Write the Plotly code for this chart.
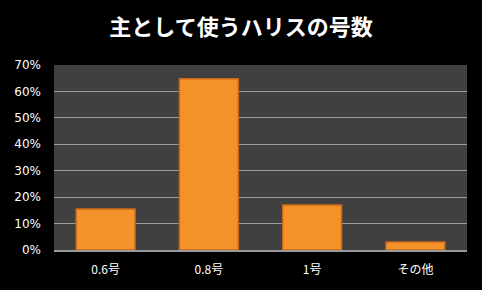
import plotly.graph_objects as go

categories = ["0.6号", "0.8号", "1号", "その他"]
values = [0.155, 0.648, 0.17, 0.03]
tick_vals = [0, 0.1, 0.2, 0.3, 0.4, 0.5, 0.6, 0.7]
tick_text = ["0%", "10%", "20%", "30%", "40%", "50%", "60%", "70%"]

fig = go.Figure()
fig.add_trace(go.Bar(
    x=categories, y=values,
    marker=dict(color="#f5922a", line=dict(color="#c96a18", width=1.5)),
    width=0.57,
))
fig.update_layout(
    width=482, height=290,
    margin=dict(l=54, r=15, t=65, b=40),
    paper_bgcolor="#000000",
    plot_bgcolor="#404040",
    showlegend=False,
    title=dict(text="<b>主として使うハリスの号数</b>", x=0.5, xanchor="center",
               y=0.905, yanchor="middle",
               font=dict(family="Noto Sans CJK JP", size=22, color="#ffffff")),
    font=dict(family="DejaVu Sans", size=11, color="#ffffff"),
)
fig.update_yaxes(range=[0, 0.7], tickvals=tick_vals, ticktext=tick_text,
                 showgrid=True, gridcolor="#9a9a9a", gridwidth=1,
                 zeroline=False, showline=False, ticks="", ticklen=0,
                 ticklabelstandoff=12,
                 tickfont=dict(family="DejaVu Sans", size=12, color="#ffffff"))
fig.update_xaxes(showgrid=False, showline=True, linecolor="#9a9a9a", linewidth=1.5,
                 ticks="", ticklabelstandoff=8,
                 tickfont=dict(family="Noto Sans CJK JP", size=12, color="#ffffff"))
fig.write_html("out.html")
